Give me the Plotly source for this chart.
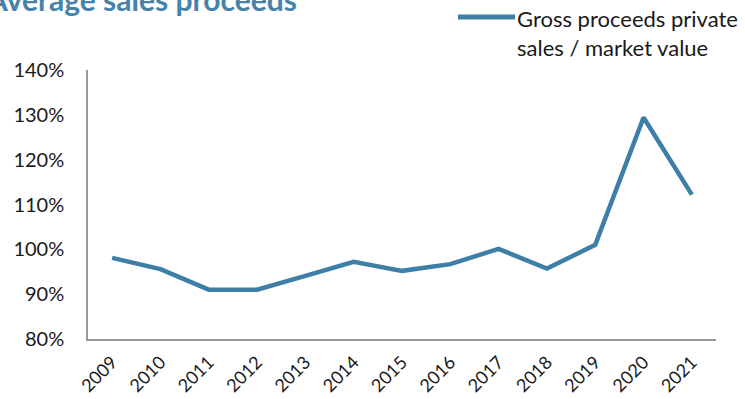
import plotly.graph_objects as go

# Ratio of gross proceeds from private sales to market value, by year
years = ["2009", "2010", "2011", "2012", "2013", "2014", "2015",
         "2016", "2017", "2018", "2019", "2020", "2021"]
ratio = [0.981, 0.956, 0.910, 0.910, 0.941, 0.972, 0.952,
         0.967, 1.001, 0.957, 1.010, 1.294, 1.122]
y_ticks = [0.8, 0.9, 1.0, 1.1, 1.2, 1.3, 1.4]

LINE = "#3d7fa6"
FONT = "Lato"

fig = go.Figure()
fig.add_trace(go.Scatter(
    x=years, y=ratio, mode="lines",
    line=dict(color=LINE, width=4.5),
    name="Gross proceeds private<br>sales / market value",
    showlegend=False,
))

W, H = 745, 399
L, R, T, B = 88, 29, 70, 60
pw, ph = W - L - R, H - T - B

def px_x(v):
    return (v - L) / pw

def px_y(v):
    return (H - B - v) / ph

fig.update_layout(
    width=W, height=H,
    margin=dict(l=L, r=R, t=T, b=B),
    paper_bgcolor="white", plot_bgcolor="white",
    font=dict(family=FONT, size=20, color="#1a1a1a"),
    xaxis=dict(
        type="category", range=[-0.5, len(years) - 0.5],
        showgrid=False, zeroline=False, automargin=False,
        showline=True, linecolor="#999999", linewidth=1.5,
        ticks="", tickangle=-45, tickfont=dict(size=18),
        ticklabelstandoff=4,
    ),
    yaxis=dict(
        range=[0.8, 1.4], tickvals=y_ticks, tickformat=".0%",
        showgrid=False, zeroline=False, automargin=False,
        showline=True, linecolor="#999999", linewidth=1.5,
        ticks="", ticklabelstandoff=18, tickfont=dict(size=20),
    ),
)

# Title
fig.add_annotation(
    text="<b>Average sales proceeds</b>",
    xref="paper", yref="paper", x=px_x(-16), y=px_y(19),
    xanchor="left", yanchor="bottom", showarrow=False,
    font=dict(family=FONT, size=30, color="#4683aa"),
)

# Legend: line sample plus two-line label
fig.add_shape(
    type="line", xref="paper", yref="paper",
    x0=px_x(458), x1=px_x(515), y0=px_y(17), y1=px_y(17),
    line=dict(color=LINE, width=5),
)
fig.add_annotation(
    text="Gross proceeds private<br>sales / market value",
    xref="paper", yref="paper", x=px_x(515), y=px_y(3),
    xanchor="left", yanchor="top", align="left", showarrow=False,
    font=dict(family=FONT, size=22, color="#1a1a1a"),
)

fig.write_html("out.html")
